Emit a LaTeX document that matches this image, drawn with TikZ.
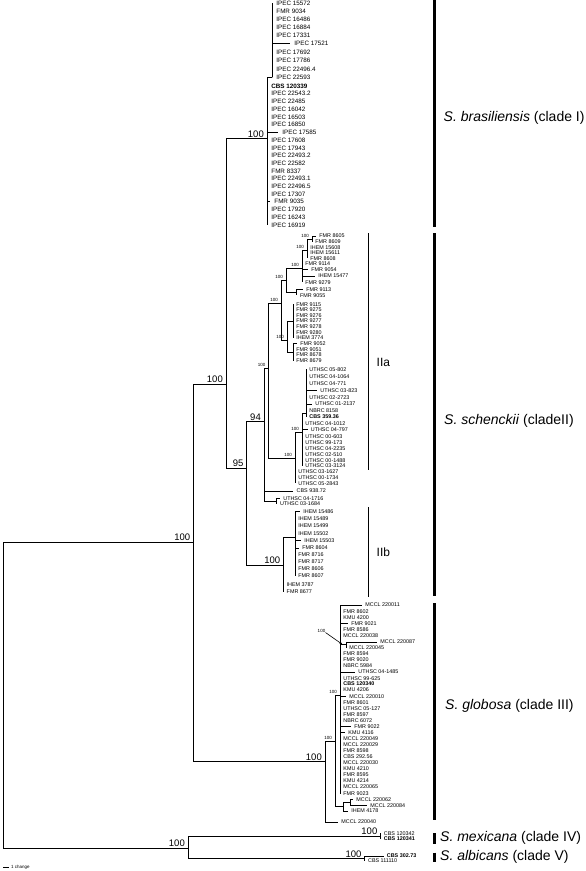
\documentclass[tikz,border=0pt]{standalone}
\usepackage{fontspec}
\setmainfont{Liberation Sans}
\usetikzlibrary{arrows.meta}
\tikzset{
 br/.style={line width=0.9pt},
 lf/.style={anchor=west, inner sep=0pt, font=\fontsize{5.4}{5.4}\selectfont},
 lfb/.style={lf, font=\fontsize{5.4}{5.4}\selectfont\bfseries},
 lfI/.style={lf, font=\fontsize{6.3}{6.3}\selectfont, xshift=1pt},
 lfIb/.style={lf, font=\fontsize{6.3}{6.3}\selectfont\bfseries, xshift=1pt},
 bs/.style={anchor=south east, inner sep=0pt, font=\fontsize{9.5}{10}\selectfont},
 bss/.style={anchor=south east, inner sep=0pt, font=\fontsize{4.5}{5}\selectfont},
 cbar/.style={line width=2.6pt},
 sbar/.style={line width=1.1pt},
 sp/.style={anchor=west, inner sep=0pt, font=\fontsize{14}{16}\selectfont},
 sublab/.style={anchor=west, inner sep=0pt, font=\fontsize{12}{14}\selectfont},
}
% #1 style, #2 name, #3 parent, #4 tip x, #5 y, #6 text
\newcommand{\tleaf}[6][lf]{\coordinate (tip#2) at (#4,#5);\draw[br] (#3) |- (tip#2);\node[#1] (lab#2) at ([xshift=3.2pt]tip#2) {#6};}
% #1 name, #2 parent, #3 x, #4 stem y
\newcommand{\inode}[4]{\coordinate (#1) at (#3,#4);\draw[br] (#2) |- (#1);}
\newcommand{\boot}[3][bs]{\node[#1] (bs#2) at ([xshift=-3pt,yshift=1.2pt]#2) {#3};}
\begin{document}
\begin{tikzpicture}[x=1pt,y=-1pt]
\fill[white] (0,0) rectangle (586,871);
\useasboundingbox (0,0) rectangle (586,871);
\coordinate (R) at (3.5,700);
\inode{A}{R}{193.3}{542}
\inode{IVV}{R}{188}{848}
\inode{B}{A}{226}{384}
\inode{III}{A}{325}{761.7}
\inode{cI}{B}{267}{138.5}
\inode{cIs}{cI}{272}{77.3}
\inode{II}{B}{246.7}{468}
\inode{N94}{II}{264}{421.7}
\inode{IIb}{II}{283.3}{565}
\inode{core}{N94}{268.5}{368}
\inode{W}{N94}{276.7}{501}
\inode{G}{core}{281}{303}
\inode{U}{core}{295}{458}
\inode{q4}{G}{286}{280}
\inode{q7}{G}{287}{340}
\inode{q3}{q4}{302}{268}
\inode{q5}{q4}{296.7}{292}
\inode{q2}{q3}{307}{250}
\inode{q1}{q2}{312}{239}
\inode{q7a}{q7}{293}{321}
\inode{q8}{q7}{293}{352}
\inode{u2}{U}{302}{432}
\inode{u1}{u2}{306}{413}
\inode{b1}{IIb}{295}{537}
\inode{C}{III}{335}{741}
\inode{D}{C}{340}{695}
\inode{E}{C}{343}{806}
\inode{P}{D}{346}{644.8}
\inode{F}{E}{350}{802.7}
\inode{IV}{IVV}{380.5}{836}
\inode{V}{IVV}{364.7}{858.5}
% clade I
\tleaf[lfI]{1}{cIs}{272}{3.3}{IPEC 15572}
\tleaf[lfI]{2}{cIs}{272}{11}{FMR 9034}
\tleaf[lfI]{3}{cIs}{272}{19}{IPEC 16486}
\tleaf[lfI]{4}{cIs}{272}{27.3}{IPEC 16884}
\tleaf[lfI]{5}{cIs}{272}{35.7}{IPEC 17331}
\tleaf[lfI]{6}{cIs}{290}{43.7}{IPEC 17521}
\tleaf[lfI]{7}{cIs}{272}{52.3}{IPEC 17692}
\tleaf[lfI]{8}{cIs}{272}{60.3}{IPEC 17786}
\tleaf[lfI]{9}{cIs}{272}{69}{IPEC 22496.4}
\tleaf[lfI]{10}{cIs}{272}{77.3}{IPEC 22593}
\tleaf[lfIb]{11}{cI}{267}{86}{CBS 120339}
\tleaf[lfI]{12}{cI}{267}{93.7}{IPEC 22543.2}
\tleaf[lfI]{13}{cI}{267}{101.3}{IPEC 22485}
\tleaf[lfI]{14}{cI}{267}{109}{IPEC 16042}
\tleaf[lfI]{15}{cI}{267}{116.9}{IPEC 16503}
\tleaf[lfI]{16}{cI}{267}{124.7}{IPEC 16850}
\tleaf[lfI]{17}{cI}{278}{132.7}{IPEC 17585}
\tleaf[lfI]{18}{cI}{267}{140}{IPEC 17608}
\tleaf[lfI]{19}{cI}{267}{148}{IPEC 17943}
\tleaf[lfI]{20}{cI}{267}{155.7}{IPEC 22493.2}
\tleaf[lfI]{21}{cI}{267}{163.3}{IPEC 22582}
\tleaf[lfI]{22}{cI}{267}{171}{FMR 8337}
\tleaf[lfI]{23}{cI}{267}{178.7}{IPEC 22493.1}
\tleaf[lfI]{24}{cI}{267}{186.3}{IPEC 22496.5}
\tleaf[lfI]{25}{cI}{267}{194}{IPEC 17307}
\tleaf[lfI]{26}{cI}{270}{201.7}{FMR 9035}
\tleaf[lfI]{27}{cI}{267}{209.3}{IPEC 17920}
\tleaf[lfI]{28}{cI}{267}{217}{IPEC 16243}
\tleaf[lfI]{29}{cI}{267}{225}{IPEC 16919}
% clade IIa
\tleaf{30}{q1}{316}{236}{FMR 8605}
\tleaf{31}{q1}{312}{241.7}{FMR 8609}
\tleaf{32}{q2}{307}{247.3}{IHEM 15608}
\tleaf{33}{q2}{307}{253}{IHEM 15611}
\tleaf{34}{q2}{307}{258.3}{FMR 8608}
\tleaf{35}{q3}{302}{264}{FMR 9114}
\tleaf{36}{q3}{308}{269.5}{FMR 9054}
\tleaf{37}{q3}{315}{276}{IHEM 15477}
\tleaf{38}{q3}{302}{282.3}{FMR 9279}
\tleaf{39}{q5}{303}{289.3}{FMR 9113}
\tleaf{40}{q5}{296.7}{295.3}{FMR 9055}
\tleaf{41}{q7a}{293}{304.3}{FMR 9115}
\tleaf{42}{q7a}{293}{310}{FMR 9275}
\tleaf{43}{q7a}{293}{315.5}{FMR 9276}
\tleaf{44}{q7a}{293}{321}{FMR 9277}
\tleaf{45}{q7a}{293}{326.7}{FMR 9278}
\tleaf{46}{q7a}{293}{332.3}{FMR 9280}
\tleaf{47}{q7a}{293}{337.8}{IHEM 3774}
\tleaf{48}{q8}{297}{343.3}{FMR 9052}
\tleaf{49}{q8}{293}{349.3}{FMR 9051}
\tleaf{50}{q8}{293}{355}{FMR 8678}
\tleaf{51}{q8}{293}{360.7}{FMR 8679}
\tleaf{52}{u1}{306}{369.3}{UTHSC 05-802}
\tleaf{53}{u1}{306}{376.7}{UTHSC 04-1064}
\tleaf{54}{u1}{306}{383.3}{UTHSC 04-771}
\tleaf{55}{u1}{317}{390.7}{UTHSC 03-823}
\tleaf{56}{u1}{306}{397.3}{UTHSC 02-2723}
\tleaf{57}{u1}{312}{404}{UTHSC 01-2137}
\tleaf{58}{u1}{306}{410.7}{NBRC 8158}
\tleaf[lfb]{59}{u1}{306}{417}{CBS 359.36}
\tleaf{60}{u2}{302}{423.3}{UTHSC 04-1012}
\tleaf{61}{u2}{307.5}{429.7}{UTHSC 04-797}
\tleaf{62}{u2}{302}{436.3}{UTHSC 00-603}
\tleaf{63}{u2}{302}{442.7}{UTHSC 99-173}
\tleaf{64}{u2}{302}{448.7}{UTHSC 04-2235}
\tleaf{65}{u2}{302}{454.7}{UTHSC 02-510}
\tleaf{66}{u2}{302}{460.5}{UTHSC 00-1488}
\tleaf{67}{u2}{302}{466}{UTHSC 03-3124}
\tleaf{68}{U}{295}{471.7}{UTHSC 03-1627}
\tleaf{69}{U}{295}{477.3}{UTHSC 00-1734}
\tleaf{70}{U}{295}{483.3}{UTHSC 05-2843}
\tleaf{71}{N94}{293.3}{491}{CBS 938.72}
\tleaf{72}{W}{280}{498.3}{UTHSC 04-1716}
\tleaf{73}{W}{276.7}{503.5}{UTHSC 03-1684}
% clade IIb
\tleaf{74}{b1}{300}{511.7}{IHEM 15486}
\tleaf{75}{b1}{295}{519}{IHEM 15489}
\tleaf{76}{b1}{295}{526}{IHEM 15499}
\tleaf{77}{b1}{295}{533.3}{IHEM 15502}
\tleaf{78}{b1}{301}{540.7}{IHEM 15503}
\tleaf{79}{b1}{299}{548}{FMR 8604}
\tleaf{80}{b1}{295}{555}{FMR 8716}
\tleaf{81}{b1}{295}{561.7}{FMR 8717}
\tleaf{82}{b1}{295}{569}{FMR 8606}
\tleaf{83}{b1}{295}{576}{FMR 8607}
\tleaf{84}{IIb}{283.3}{585}{IHEM 3787}
\tleaf{85}{IIb}{283.3}{591.7}{FMR 8677}
% clade III
\tleaf{86}{D}{362}{605}{MCCL 220011}
\tleaf{87}{D}{340}{611.7}{FMR 8602}
\tleaf{88}{D}{340}{617.3}{KMU 4200}
\tleaf{89}{D}{348}{623.3}{FMR 9021}
\tleaf{90}{D}{340}{629.3}{FMR 8586}
\tleaf{91}{D}{340}{635.3}{MCCL 220038}
\tleaf{92}{P}{377}{642}{MCCL 220087}
\tleaf{93}{P}{346}{647.5}{MCCL 220045}
\tleaf{94}{D}{340}{653.5}{FMR 8594}
\tleaf{95}{D}{340}{660}{FMR 9020}
\tleaf{96}{D}{340}{666}{NBRC 5984}
\tleaf{97}{D}{355}{672}{UTHSC 04-1485}
\tleaf{98}{D}{340}{678.3}{UTHSC 99-625}
\tleaf[lfb]{99}{D}{340}{684}{CBS 120340}
\tleaf{100}{D}{340}{690}{KMU 4206}
\tleaf{101}{D}{346}{696.7}{MCCL 220010}
\tleaf{102}{D}{340}{702.3}{FMR 8601}
\tleaf{103}{D}{340}{708.3}{UTHSC 05-127}
\tleaf{104}{D}{340}{714.3}{FMR 8597}
\tleaf{105}{D}{340}{720.3}{NBRC 6072}
\tleaf{106}{D}{351}{726.7}{FMR 9022}
\tleaf{107}{D}{345}{732.7}{KMU 4116}
\tleaf{108}{D}{340}{739}{MCCL 220049}
\tleaf{109}{D}{340}{745}{MCCL 220029}
\tleaf{110}{D}{340}{750.7}{FMR 8598}
\tleaf{111}{D}{340}{756.7}{CBS 292.56}
\tleaf{112}{D}{340}{762.7}{MCCL 220030}
\tleaf{113}{D}{340}{768.7}{KMU 4210}
\tleaf{114}{D}{340}{774.7}{FMR 8595}
\tleaf{115}{D}{340}{780.7}{KMU 4214}
\tleaf{116}{D}{340}{787}{MCCL 220065}
\tleaf{117}{D}{340}{793.5}{FMR 9023}
\tleaf{118}{F}{353}{799.7}{MCCL 220062}
\tleaf{119}{F}{367}{805.3}{MCCL 220084}
\tleaf{120}{E}{348}{811}{IHEM 4178}
\tleaf{121}{III}{338}{822}{MCCL 220040}
% clades IV, V
\tleaf{122}{IV}{380.5}{833.3}{CBS 120342}
\tleaf[lfb]{123}{IV}{380.5}{838.5}{CBS 120341}
\tleaf[lfb]{124}{V}{383.5}{856}{CBS 302.73}
\tleaf{125}{V}{364.7}{861}{CBS 111110}
% bootstrap values
\boot{A}{100}
\boot{B}{100}
\boot{cI}{100}
\boot{II}{95}
\boot{N94}{94}
\boot{IIb}{100}
\boot{III}{100}
\boot{IVV}{100}
\boot{IV}{100}
\boot{V}{100}
\boot[bss]{core}{100}
\boot[bss]{G}{100}
\boot[bss]{q4}{100}
\boot[bss]{q3}{100}
\boot[bss]{q2}{100}
\boot[bss]{q1}{100}
\boot[bss]{q7}{100}
\boot[bss]{u2}{100}
\boot[bss]{U}{100}
\boot[bss]{C}{100}
\boot[bss]{D}{100}
\node[inner sep=0pt, font=\fontsize{4.5}{5}\selectfont] (bsP) at (321.5,630.7) {100};
\coordinate (Parr) at (342.3,644.3);
\draw[line width=0.6pt, -{Stealth[length=3pt,width=2.4pt]}] (bsP.south east) -- (Parr);
% scale bar
\coordinate (sbA) at (3,867.3);
\coordinate (sbB) at (8.5,867.3);
\draw[line width=0.6pt] (sbA) -- (sbB);
\node[lf, font=\fontsize{4.5}{5}\selectfont] (sbT) at ([xshift=2.5pt]sbB) {1 change};
% subclade bars
\coordinate (ya1) at (368.3,233); \coordinate (ya2) at (368.3,470);
\coordinate (yb1) at (368.3,507); \coordinate (yb2) at (368.3,597);
\draw[sbar] (ya1) -- (ya2);
\draw[sbar] (yb1) -- (yb2);
\node[sublab] (lIIa) at (376.5,362) {IIa};
\node[sublab] (lIIb) at (376.5,552) {IIb};
% clade bars
\coordinate (k1) at (434.3,0); \coordinate (k2) at (434.3,226.7);
\coordinate (k3) at (434.3,233.3); \coordinate (k4) at (434.3,596);
\coordinate (k5) at (434.3,603.3); \coordinate (k6) at (434.3,820);
\coordinate (k7) at (434.3,833); \coordinate (k8) at (434.3,843.5);
\coordinate (k9) at (434.3,852.5); \coordinate (k10) at (434.3,862);
\draw[cbar] (k1) -- (k2);
\draw[cbar] (k3) -- (k4);
\draw[cbar] (k5) -- (k6);
\draw[cbar] (k7) -- (k8);
\draw[cbar] (k9) -- (k10);
\node[sp] (sI) at (443.5,118) {\textit{S. brasiliensis} (clade I)};
\node[sp] (sII) at (444,421) {\textit{S. schenckii} (cladeII)};
\node[sp] (sIII) at (445,706) {\textit{S. globosa} (clade III)};
\node[sp] (sIV) at (440,838.3) {\textit{S. mexicana} (clade IV)};
\node[sp] (sV) at (440,857.3) {\textit{S. albicans} (clade V)};
\end{tikzpicture}
\end{document}
